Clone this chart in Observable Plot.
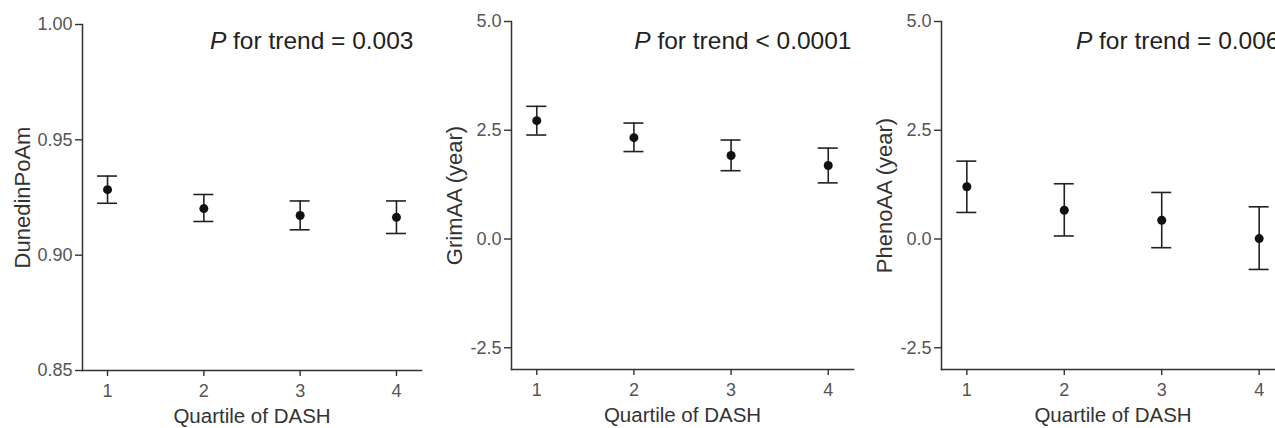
<!DOCTYPE html>
<html><head><meta charset="utf-8">
<script src="https://cdn.jsdelivr.net/npm/d3@7"></script>
<script src="https://cdn.jsdelivr.net/npm/@observablehq/plot@0.6"></script>
<style>
body{margin:0;background:#fff;}
#wrap{position:relative;width:1275px;height:428px;overflow:hidden;background:#fff;}
#wrap > svg{position:absolute;top:0;}
</style></head><body><div id="wrap"></div>
<script>
// ---- data ----
const quartiles = [1, 2, 3, 4];
const dunedinMean = [0.9284, 0.9202, 0.9172, 0.9164];
const dunedinLow  = [0.9225, 0.9146, 0.9110, 0.9094];
const dunedinHigh = [0.9343, 0.9263, 0.9235, 0.9235];
const grimMean = [2.72, 2.33, 1.92, 1.69];
const grimLow  = [2.39, 2.01, 1.57, 1.29];
const grimHigh = [3.05, 2.665, 2.275, 2.09];
const phenoMean = [1.20, 0.66, 0.43, 0.01];
const phenoLow  = [0.61, 0.07, -0.20, -0.70];
const phenoHigh = [1.79, 1.27, 1.07, 0.74];
const yTicksDunedin = [0.85, 0.90, 0.95, 1.00];
const yTicksAA = [-2.5, 0.0, 2.5, 5.0];
const xTickLabels = ["1", "2", "3", "4"];
const xLabel = "Quartile of DASH";
const yLabels = ["DunedinPoAm", "GrimAA (year)", "PhenoAA (year)"];
const pSymbol = "P";
const pRest = [" for trend = 0.003", " for trend < 0.0001", " for trend = 0.006"];

// ---- layout ----
const font = "'Liberation Sans', Arial, Helvetica, sans-serif";
const panels = [
  {left: 0,   width: 430, mL: 82, mR: 9, mT: 24, mB: 58, yDomain: [0.85, 1.00], yTicks: yTicksDunedin, fmt: d => d.toFixed(2),
   mean: dunedinMean, low: dunedinLow, high: dunedinHigh, yLabel: yLabels[0], rest: pRest[0], pDx: -8, pDy: 7, yDx: -68},
  {left: 430, width: 430, mL: 81, mR: 7, mT: 21, mB: 59, yDomain: [-3, 5], yTicks: yTicksAA, fmt: d => d.toFixed(1),
   mean: grimMean, low: grimLow, high: grimHigh, yLabel: yLabels[1], rest: pRest[1], pDx: -2, pDy: 10.5, yDx: -65},
  {left: 860, width: 430, mL: 81, mR: 6, mT: 21, mB: 59, yDomain: [-3, 5], yTicks: yTicksAA, fmt: d => d.toFixed(1),
   mean: phenoMean, low: phenoLow, high: phenoHigh, yLabel: yLabels[2], rest: pRest[2], pDx: -5, pDy: 10.5, yDx: -65}
];

const wrap = document.getElementById("wrap");
for (const cfg of panels) {
  const data = quartiles.map((q, i) => ({q, m: cfg.mean[i], lo: cfg.low[i], hi: cfg.high[i]}));
  const pFull = pSymbol + cfg.rest;
  const svg = Plot.plot({
    width: cfg.width, height: 428,
    marginLeft: cfg.mL, marginRight: cfg.mR, marginTop: cfg.mT, marginBottom: cfg.mB,
    x: {domain: [0.74, 4.26]},
    y: {domain: cfg.yDomain},
    style: {fontFamily: font, background: "transparent", overflow: "visible"},
    marks: [
      Plot.frame({anchor: "left", stroke: "#333", strokeWidth: 1.5}),
      Plot.frame({anchor: "bottom", stroke: "#333", strokeWidth: 1.5}),
      Plot.axisY(cfg.yTicks, {tickFormat: cfg.fmt, tickSize: 7, tickPadding: 3, fontSize: 18, fill: "#555", stroke: "#333", strokeWidth: 1.4, label: null}),
      Plot.axisX(quartiles, {tickFormat: (d, i) => xTickLabels[i], tickSize: 6, tickPadding: 8, fontSize: 18, fill: "#555", stroke: "#333", strokeWidth: 1.4, label: null}),
      Plot.ruleX(data, {x: "q", y1: "lo", y2: "hi", stroke: "#222", strokeWidth: 1.6}),
      Plot.ruleY(data, {y: "hi", x1: "q", x2: "q", insetLeft: -10, insetRight: -10, stroke: "#222", strokeWidth: 1.6}),
      Plot.ruleY(data, {y: "lo", x1: "q", x2: "q", insetLeft: -10, insetRight: -10, stroke: "#222", strokeWidth: 1.6}),
      Plot.dot(data, {x: "q", y: "m", r: 4.5, fill: "#111", stroke: "none"}),
      Plot.text([pFull], {text: d => d, frameAnchor: "top-right", textAnchor: "end", lineAnchor: "top", dx: cfg.pDx, dy: cfg.pDy, fontSize: 24.5, fill: "#222"}),
      Plot.text([cfg.yLabel], {text: d => d, frameAnchor: "left", textAnchor: "middle", rotate: -90, lineAnchor: "top", dx: cfg.yDx, fontSize: 22, fill: "#333"}),
      Plot.text([xLabel], {text: d => d, frameAnchor: "bottom", textAnchor: "middle", lineAnchor: "bottom", dy: 52, fontSize: 20.5, fill: "#333"})
    ]
  });
  svg.style.left = cfg.left + "px";
  d3.select(svg).selectAll("text").each(function () {
    if (this.textContent === pFull) {
      const t = d3.select(this);
      t.text(null);
      t.append("tspan").attr("font-style", "italic").text(pSymbol);
      t.append("tspan").text(cfg.rest);
    }
  });
  wrap.appendChild(svg);
}
</script></body></html>
